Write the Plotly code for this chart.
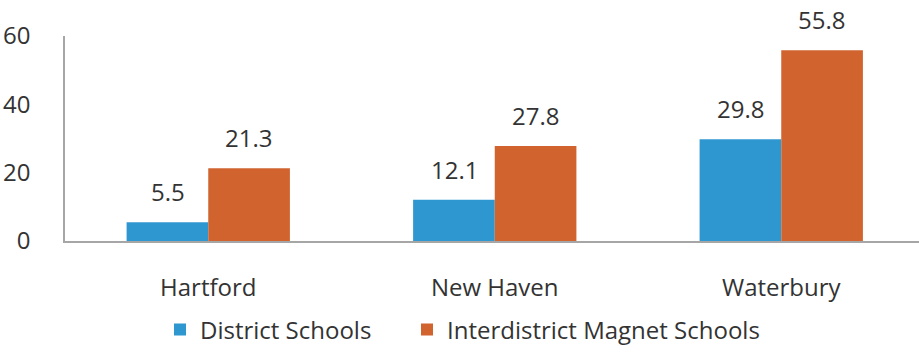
import plotly.graph_objects as go

categories = ["Hartford", "New Haven", "Waterbury"]
district = [5.5, 12.1, 29.8]
magnet = [21.3, 27.8, 55.8]
series_names = ["District Schools", "Interdistrict Magnet Schools"]
y_ticks = [0, 20, 40, 60]

FONT = "Open Sans"
FS = 24
TXT = "#333333"
W, H = 919, 353
L, T, B = 65, 35.5, 110
plot_w = W - L
plot_h = H - T - B
cat_px = 286.5
bar_px = 81

fig = go.Figure()
fig.add_trace(go.Bar(x=categories, y=district, name=series_names[0], legend="legend",
                     marker=dict(color="#2F97D0", line=dict(width=0))))
fig.add_trace(go.Bar(x=categories, y=magnet, name=series_names[1], legend="legend2",
                     marker=dict(color="#D1632F", line=dict(width=0))))

annotations = []
for vals, shift in ((district, -bar_px / 2), (magnet, bar_px / 2)):
    for c, v in zip(categories, vals):
        annotations.append(dict(x=c, y=v, xref="x", yref="y", text=f"{v}",
                                showarrow=False, xshift=shift, yanchor="bottom",
                                yshift=12, font=dict(size=FS, color=TXT, family=FONT)))

leg_common = dict(orientation="h", xanchor="left", y=(243 - 333) / plot_h, yanchor="middle",
                  font=dict(size=FS, color=TXT, family=FONT), bgcolor="rgba(0,0,0,0)")

fig.update_layout(
    width=W, height=H,
    margin=dict(l=L, r=0, t=T, b=B, pad=0),
    paper_bgcolor="white", plot_bgcolor="white",
    barmode="group", bargap=0.43, bargroupgap=0,
    font=dict(family=FONT, size=FS, color=TXT),
    showlegend=True,
    annotations=annotations,
    legend=dict(x=(160 - L) / plot_w, **leg_common),
    legend2=dict(x=(160 + 247 - L) / plot_w, **leg_common),
    xaxis=dict(range=[-0.5, -0.5 + plot_w / cat_px], showline=True, linecolor="#A6A6A6",
               linewidth=1.5, showgrid=False, zeroline=False, ticks="",
               ticklabelstandoff=24, tickfont=dict(size=FS, color=TXT, family=FONT)),
    yaxis=dict(range=[0, 60], tickvals=y_ticks, showline=True, linecolor="#A6A6A6",
               linewidth=1.5, showgrid=False, zeroline=False, ticks="",
               ticklabelstandoff=28, tickfont=dict(size=FS, color=TXT, family=FONT)),
)

fig.write_html("out.html")
